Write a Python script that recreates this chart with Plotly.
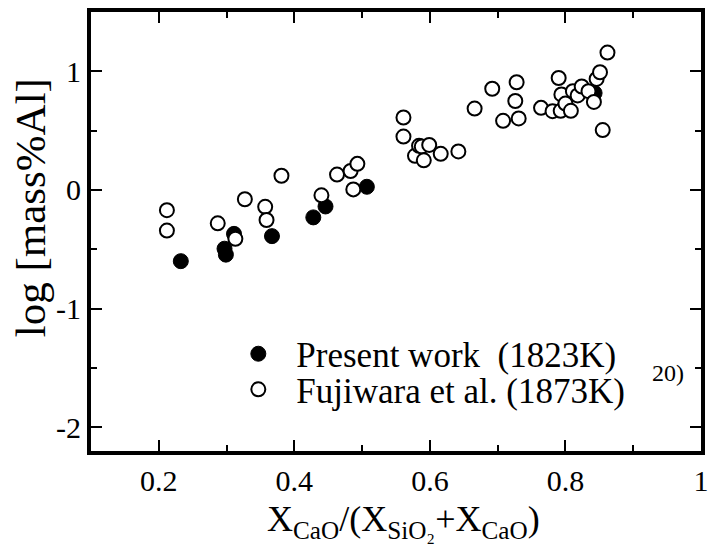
import plotly.graph_objects as go

# Present work (1823K)
present_x = [0.2325, 0.297, 0.299, 0.311, 0.367, 0.428, 0.446, 0.507, 0.843]
present_y = [-0.600, -0.495, -0.545, -0.370, -0.389, -0.231, -0.139, 0.027, 0.817]

# Fujiwara et al. (1873K)
fuji_x = [0.212, 0.212, 0.287, 0.313, 0.327, 0.357, 0.359, 0.381, 0.440, 0.463, 0.483, 0.487, 0.493,
          0.561, 0.561, 0.578, 0.584, 0.588, 0.591, 0.599, 0.616, 0.642,
          0.666, 0.692, 0.708, 0.726, 0.728, 0.731, 0.764, 0.781, 0.790, 0.793, 0.794, 0.800,
          0.808, 0.811, 0.818, 0.824, 0.834, 0.842, 0.846, 0.851, 0.855, 0.862]
fuji_y = [-0.170, -0.342, -0.281, -0.412, -0.078, -0.142, -0.253, 0.120, -0.045, 0.130, 0.160, 0.005, 0.220,
          0.611, 0.450, 0.288, 0.372, 0.367, 0.250, 0.380, 0.305, 0.325,
          0.686, 0.853, 0.583, 0.750, 0.908, 0.603, 0.692, 0.664, 0.944, 0.667, 0.805, 0.728,
          0.667, 0.833, 0.797, 0.872, 0.833, 0.742, 0.936, 0.992, 0.505, 1.158]

x_ticks = [0.2, 0.4, 0.6, 0.8, 1.0]
x_labels = ["0.2", "0.4", "0.6", "0.8", "1"]
y_ticks = [-2, -1, 0, 1]
y_labels = ["-2", "-1", "0", "1"]

font = "Liberation Serif"

fig = go.Figure()
fig.add_trace(go.Scatter(
    x=present_x, y=present_y, mode="markers", name="Present work\u00a0\u00a0(1823K)",
    marker=dict(symbol="circle", size=15, color="black", line=dict(color="black", width=1)),
    legend="legend",
))
fig.add_trace(go.Scatter(
    x=fuji_x, y=fuji_y, mode="markers", name="Fujiwara et al. (1873K)",
    marker=dict(symbol="circle", size=14, color="white", line=dict(color="black", width=2)),
    legend="legend2",
))

axis_common = dict(
    showline=True, linewidth=4, linecolor="black", mirror="allticks",
    ticks="inside", ticklen=11, tickwidth=2, tickcolor="black",
    showgrid=False, zeroline=False,
    tickfont=dict(family=font, size=30, color="black"),
)

fig.update_xaxes(
    range=[0.1, 1.0], tickvals=x_ticks, ticktext=x_labels,
    minor=dict(dtick=0.1, tick0=0.1, ticks="inside", ticklen=6, tickwidth=2, tickcolor="black"),
    **axis_common,
)
fig.update_yaxes(
    range=[-2.2, 1.5], tickvals=y_ticks, ticktext=y_labels,
    minor=dict(dtick=0.5, tick0=0, ticks="inside", ticklen=6, tickwidth=2, tickcolor="black"),
    **axis_common,
)

# axis titles
fig.add_annotation(
    text="X<sub>CaO</sub>/(X<sub>SiO₂</sub>+X<sub>CaO</sub>)", xref="paper", yref="paper",
    x=0.513, y=-0.16, showarrow=False, xanchor="center", yanchor="middle",
    font=dict(family=font, size=36, color="black"),
)
fig.add_annotation(
    text="log [mass%Al]", xref="paper", yref="paper", textangle=-90,
    x=-0.1, y=0.553, showarrow=False, xanchor="center", yanchor="middle",
    font=dict(family=font, size=43, color="black"),
)

fig.add_annotation(
    text="20)", xref="paper", yref="paper", x=0.916, y=0.178, showarrow=False,
    font=dict(family=font, size=24, color="black"), xanchor="left", yanchor="middle",
)

legend_common = dict(
    xanchor="left", yanchor="middle",
    font=dict(family=font, size=35, color="black"),
    bgcolor="rgba(0,0,0,0)", itemsizing="trace", itemwidth=66,
)

fig.update_layout(
    width=717, height=549,
    margin=dict(l=91, r=8, t=8, b=98),
    plot_bgcolor="white", paper_bgcolor="white",
    showlegend=True,
    legend=dict(x=0.212, y=0.221, **legend_common),
    legend2=dict(x=0.212, y=0.140, **legend_common),
)

fig.write_html("out.html")
